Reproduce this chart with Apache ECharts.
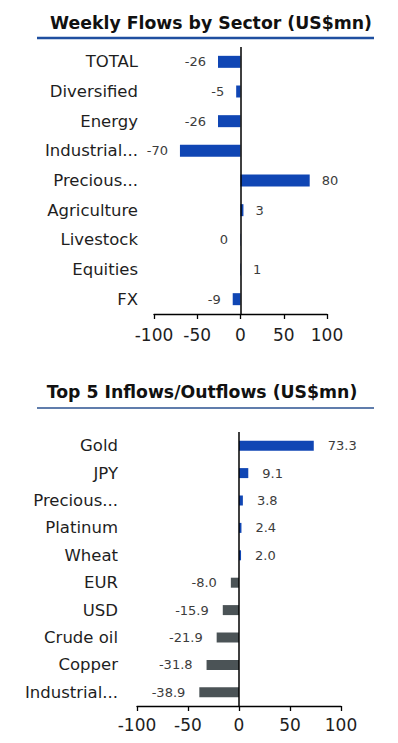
<!DOCTYPE html>
<html>
<head>
<meta charset="utf-8">
<script src="https://cdn.jsdelivr.net/npm/echarts/dist/echarts.min.js"></script>
<style>
  html, body { margin: 0; padding: 0; background: #ffffff; }
  #chart { width: 398px; height: 743px; }
</style>
</head>
<body>
<div id="chart"></div>
<script>
// ---- Data ----
const title1 = "Weekly Flows by Sector (US$mn)";
const sectorCategories = ["TOTAL", "Diversified", "Energy", "Industrial...", "Precious...", "Agriculture", "Livestock", "Equities", "FX"];
const sectorValues = [-26, -5, -26, -70, 80, 3.4, -0.4, 0.5, -9];

const title2 = "Top 5 Inflows/Outflows (US$mn)";
const flowCategories = ["Gold", "JPY", "Precious...", "Platinum", "Wheat", "EUR", "USD", "Crude oil", "Copper", "Industrial..."];
const flowValues = [73.3, 9.1, 3.8, 2.4, 2.0, -8.0, -15.9, -21.9, -31.8, -38.9];

const axisMin = -100, axisMax = 100, axisStep = 50;

// ---- Styles ----
const FONT = "DejaVu Sans";
const BLUE = "#1046b4";
const GREY = "#4b5356";
const TEXT = "#1e1e1e";
const LABEL = "#3c3c3c";

function items(values) {
  return values.map(v => ({
    value: v,
    label: { position: v < 0 ? 'left' : 'right' }
  }));
}

const chart = echarts.init(document.getElementById('chart'), null, { renderer: 'svg' });

function xAxisCfg(gridIndex, margin) {
  return {
    type: 'value', gridIndex: gridIndex,
    min: axisMin, max: axisMax, interval: axisStep,
    axisLine: { show: true, onZero: false, lineStyle: { color: '#000', width: 1.3 } },
    axisTick: { show: true, inside: false, length: 5, lineStyle: { color: '#000', width: 1.3 } },
    axisLabel: { show: true, fontFamily: FONT, fontSize: 17, color: TEXT, margin: margin },
    splitLine: { show: false }
  };
}
function yAxisCfg(gridIndex, cats, margin) {
  return {
    type: 'category', gridIndex: gridIndex, data: cats, inverse: true,
    axisLine: { show: false }, axisTick: { show: false },
    axisLabel: { fontFamily: FONT, fontSize: 16.5, color: TEXT, margin: margin }
  };
}
const zeroLine = {
  silent: true, symbol: 'none',
  label: { show: false },
  lineStyle: { color: '#000', width: 1.5, type: 'solid' },
  data: [{ xAxis: 0 }]
};

chart.setOption({
  animation: false,
  backgroundColor: '#ffffff',
  title: [
    { text: title1, left: 206, top: 9, textAlign: 'center',
      textStyle: { fontFamily: FONT, fontSize: 17.3, fontWeight: 'bold', color: '#111' } },
    { text: title2, left: 197, top: 378, textAlign: 'center',
      textStyle: { fontFamily: FONT, fontSize: 17.3, fontWeight: 'bold', color: '#111' } }
  ],
  graphic: [
    { type: 'line', shape: { x1: 37, y1: 38, x2: 374, y2: 38 }, style: { stroke: '#1f4fa0', lineWidth: 2.5 } },
    { type: 'line', shape: { x1: 37, y1: 408, x2: 374, y2: 408 }, style: { stroke: '#2b5291', lineWidth: 1.5 } }
  ],
  grid: [
    { left: 154, right: 71, top: 47, height: 267 },
    { left: 137, right: 57, top: 432, height: 274 }
  ],
  xAxis: [xAxisCfg(0, 12), xAxisCfg(1, 10)],
  yAxis: [yAxisCfg(0, sectorCategories, 16), yAxisCfg(1, flowCategories, 19)],
  series: [
    {
      type: 'bar', xAxisIndex: 0, yAxisIndex: 0,
      data: items(sectorValues),
      barWidth: 12,
      itemStyle: { color: BLUE },
      label: {
        show: true, distance: 12, fontFamily: FONT, fontSize: 13, color: LABEL,
        formatter: p => String(Math.round(p.value) === 0 ? 0 : Math.round(p.value))
      },
      markLine: zeroLine
    },
    {
      type: 'bar', xAxisIndex: 1, yAxisIndex: 1,
      data: items(flowValues),
      barWidth: 10,
      itemStyle: { color: p => (p.value < 0 ? GREY : BLUE) },
      label: {
        show: true, distance: 14, fontFamily: FONT, fontSize: 13, color: LABEL,
        formatter: p => p.value.toFixed(1)
      },
      markLine: zeroLine
    }
  ]
});
</script>
</body>
</html>
